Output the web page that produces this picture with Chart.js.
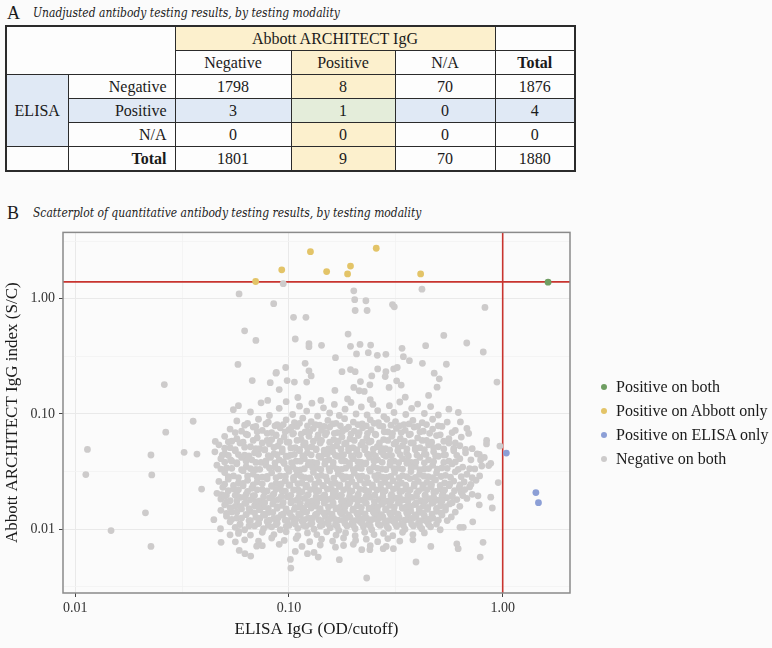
<!DOCTYPE html>
<html><head><meta charset="utf-8">
<script src="https://cdn.jsdelivr.net/npm/chart.js@4.4.1/dist/chart.umd.min.js"></script>
<style>
html,body{margin:0;padding:0;background:#fbfbfb;}
body{width:772px;height:648px;position:relative;overflow:hidden;font-family:"Liberation Serif","Times New Roman",serif;color:#1a1a1a;}
.ptitle{position:absolute;left:7px;white-space:nowrap;line-height:20px;}
.ptitle .lt{font-size:18px;display:inline-block;width:26px;vertical-align:top;}
.ptitle i{font-family:"DejaVu Serif",serif;font-size:12.8px;color:#222;font-style:italic;display:inline-block;transform:scaleX(0.84);transform-origin:0 50%;vertical-align:top;}
#tbl{position:absolute;left:5px;top:25px;border-collapse:collapse;table-layout:fixed;font-size:16px;border:2px solid #2b2b2b;}
#tbl td{border:1.5px solid #2b2b2b;padding:0 6px;text-align:center;height:23px;line-height:18px;white-space:nowrap;overflow:hidden;}
#tbl td.r{text-align:right;padding-right:8px;}
#tbl td.b{font-weight:bold;}
.yl{background:#fcf0cd;}
.bl{background:#e0e9f5;}
.gr{background:#e4edda;}
.wh{background:#fdfdfd;}
#chartwrap{position:absolute;left:0;top:220px;width:772px;height:428px;}
#legend{position:absolute;left:601px;top:377px;font-size:16px;color:#1a1a1a;}
#legend div{height:24px;line-height:20px;white-space:nowrap;}
#legend span.dot{display:inline-block;width:6px;height:6px;border-radius:50%;margin-right:9px;vertical-align:middle;position:relative;top:-1px;}
</style></head>
<body>
<div class="ptitle" style="top:3px"><span class="lt">A</span><i id="titleA"></i></div>
<table id="tbl"></table>
<div class="ptitle" style="top:203px"><span class="lt">B</span><i id="titleB"></i></div>
<div id="chartwrap"><canvas id="c" width="772" height="428"></canvas></div>
<div id="legend"></div>
<script>
// ---------- Panel A: table data ----------
const titleA = 'Unadjusted antibody testing results, by testing modality';
const titleB = 'Scatterplot of quantitative antibody testing results, by testing modality';
const abbottHeader = 'Abbott ARCHITECT IgG';
const elisaHeader = 'ELISA';
const abbottLevels = ['Negative', 'Positive', 'N/A'];
const elisaLevels = ['Negative', 'Positive', 'N/A'];
const countsElisaNegative = [1798, 8, 70];
const countsElisaPositive = [3, 1, 0];
const countsElisaNA = [0, 0, 0];
const rowTotals = [1876, 4, 0];
const colTotals = [1801, 9, 70];
const grandTotal = 1880;
const totalLabel = 'Total';

// ---------- Panel B: scatter data ----------
const xAxisTitle = 'ELISA IgG (OD/cutoff)';
const yAxisTitle = 'Abbott ARCHITECT IgG index (S/C)';
const seriesNames = ['Positive on both', 'Positive on Abbott only', 'Positive on ELISA only', 'Negative on both'];
const seriesColors = ['#6f9e62', '#e3c468', '#8c9fd6', '#cdcbcb'];
const ABBOTT_CUTOFF = 1.4;
const ELISA_CUTOFF = 1.0;
const xTickValues = [0.01, 0.1, 1];
const xTickLabels = ['0.01', '0.10', '1.00'];
const xMinorTicks = [0.0316, 0.316];
const yTickValues = [0.01, 0.1, 1];
const yTickLabels = ['0.01', '0.10', '1.00'];
const yMinorTicks = [0.00316, 0.0316, 0.316, 3.16];
const X_MIN = 0.00876, X_MAX = 2.065, Y_MIN = 0.0028, Y_MAX = 3.76;

const posBoth = [[1.63, 1.39]];
const posAbbottOnly = [[0.0698, 1.41], [0.0925, 1.78], [0.126, 2.56], [0.150, 1.72], [0.188, 1.64], [0.194, 1.92], [0.256, 2.74], [0.413, 1.64]];
const posElisaOnly = [[1.04, 0.0458], [1.43, 0.0208], [1.47, 0.0170]];

const negUpper = [[.0584,1.10],[.094,1.35],[.0848,.906],[.105,.69],[.062,.527],[.070,.435],[.107,.447],[.0577,.269],[.0965,.253],[.0869,.226],[.0673,.195],[.0817,.187],[.098,.195],[.106,.189],[.0261,.180],
[.201,1.17],[.203,.98],[.229,.96],[.204,.79],[.232,.79],[.419,1.21],[.305,.89],[.311,.85],[.826,.84],[.120,.69],[.124,.407],[.124,.384],[.142,.394],[.189,.493],[.194,.386],[.215,.401],[.241,.396],[.207,.332],[.235,.340],[.259,.323],[.284,.329],[.165,.308],[.338,.371],[.343,.314],[.366,.290],[.436,.391],[.530,.480],[.679,.413],[.811,.345],[.421,.275],[.545,.270],[.119,.275],[.0873,.229],[.121,.189],[.127,.214],[.124,.237],[.177,.233],[.194,.243],[.204,.233],[.216,.191],[.244,.214],[.260,.246],[.284,.233],[.309,.246],[.321,.253],[.282,.211],[.319,.194],[.335,.178],[.294,.170],[.478,.226],[.505,.202],[.493,.171],[.940,.189],[.090,.163],[.164,.160],[.201,.170],[.213,.159],[.239,.179],[.225,.157],[.0795,.131]];

const negFringe = [[.0356,.0865],[.0265,.0695],[.0114,.0493],[.0112,.0298],[.0226,.0441],[.0228,.0296],[.0323,.0465],[.0371,.0449],[.039,.0223],[.0213,.0139],[.0147,.00975],[.0226,.0071],[.0452,.0578],[.052,.0574],[.0549,.109],[.0487,.044],[.0533,.0399],[.0484,.020],[.0445,.0121],[.0478,.0101],[.0481,.0077],[.053,.00895],[.0585,.00655],[.0622,.00614],[.0662,.00585],[.102,.00461],[.107,.00642],[.1015,.00548],[.0561,.00778],[.0706,.00713],[.0582,.0096],
[.231,.00378],[.393,.0052],[.785,.00574],[.809,.0077],[.172,.00545],[.724,.0116],[.894,.0153],[.879,.019],[.953,.0254],[.970,.0527],[.841,.059],[.777,.0447],[.879,.0373],[.766,.0195],[.777,.0163],[.693,.0678],[.634,.0853],[.610,.00748],[.631,.0104],[.654,.0104],[.788,.0399],[.798,.0354],[.122,.00614],[.131,.0063],[.137,.00574],[.619,.00678],[.461,.0071],[.219,.00665],[.239,.00665],[.276,.00678],[.308,.00678],[.180,.00723]];

const negCoreTop = [[.058,.118],[.066,.104],[.074,.125],[.081,.097],[.09,.112],[.097,.128],[.104,.099],[.112,.117],[.121,.106],[.128,.124],[.136,.096],[.145,.113],[.155,.102],[.163,.121],[.172,.097],[.183,.11],[.195,.126],[.206,.1],[.218,.115],[.232,.098],[.247,.121],[.26,.107],[.278,.095],[.295,.118],[.31,.103],[.33,.127],[.352,.099],[.375,.112],[.4,.122],[.43,.101],[.46,.116],[.5,.098],[.56,.11],[.62,.103],[.141,.131],[.188,.135],[.24,.133],[.35,.14],[.11,.139],[.45,.145],
[.057,.087],[.064,.083],[.072,.09],[.08,.085],[.088,.081],[.097,.089],[.106,.084],[.116,.092],[.127,.086],[.139,.08],[.152,.088],[.166,.083],[.182,.091],[.2,.085],[.22,.082],[.24,.089],[.262,.084],[.287,.09],[.315,.086],[.345,.081],[.38,.088],[.42,.084],[.47,.09],[.55,.085],
[.053,.074],[.06,.071],[.068,.077],[.075,.072],[.083,.069],[.091,.076],[.1,.073],[.109,.078],[.119,.07],[.13,.075],[.142,.072],[.155,.077],[.169,.069],[.185,.074],[.202,.071],[.221,.076],[.242,.073],[.265,.079],[.29,.07],[.318,.075],[.35,.072],[.385,.077],[.425,.071],[.47,.074],[.52,.078],[.6,.072],[.68,.075],
[.05,.064],[.057,.061],[.064,.066],[.071,.062],[.079,.059],[.087,.065],[.095,.063],[.104,.067],[.114,.06],[.124,.064],[.136,.062],[.148,.066],[.162,.06],[.177,.063],[.193,.061],[.211,.065],[.231,.062],[.253,.067],[.277,.06],[.303,.064],[.332,.061],[.365,.066],[.4,.062],[.44,.059],[.49,.065],[.56,.061],[.64,.063]];

const negCoreMid = [[.047,.054],[.053,.051],[.059,.056],[.066,.052],[.073,.05],[.081,.055],[.089,.053],[.098,.057],[.107,.051],[.117,.054],[.128,.052],[.14,.056],[.153,.05],[.167,.053],[.182,.055],[.199,.051],[.217,.054],[.237,.057],[.259,.052],[.283,.05],[.31,.055],[.34,.053],[.372,.056],[.41,.051],[.45,.054],[.5,.052],[.56,.056],[.63,.053],[.72,.05],[.84,.055],
[.045,.047],[.05,.045],[.056,.048],[.062,.044],[.069,.046],[.077,.049],[.085,.045],[.093,.047],[.102,.044],[.112,.048],[.122,.046],[.134,.049],[.146,.045],[.16,.047],[.175,.044],[.19,.048],[.207,.046],[.226,.049],[.247,.045],[.27,.047],[.295,.044],[.323,.048],[.355,.046],[.39,.049],[.43,.045],[.475,.047],[.53,.044],[.59,.048],[.67,.046],[.76,.045],
[.048,.041],[.054,.039],[.06,.042],[.067,.04],[.074,.038],[.082,.042],[.09,.04],[.099,.043],[.108,.039],[.118,.041],[.129,.038],[.141,.042],[.154,.04],[.168,.043],[.183,.039],[.2,.041],[.218,.038],[.238,.042],[.26,.04],[.284,.043],[.31,.039],[.34,.041],[.373,.038],[.41,.042],[.45,.04],[.5,.043],[.56,.039],[.63,.041],[.71,.04],[.82,.042],
[.046,.036],[.051,.034],[.057,.037],[.063,.035],[.07,.033],[.078,.036],[.086,.0345],[.095,.0372],[.104,.035],[.113,.0328],[.123,.0362],[.135,.034],[.147,.0368],[.161,.0352],[.176,.0331],[.192,.0358],[.209,.0342],[.228,.037],[.249,.0348],[.272,.0333],[.297,.0361],[.325,.0339],[.356,.0373],[.39,.0351],[.428,.0332],[.47,.0359],[.52,.0341],[.58,.0369],[.65,.0346],[.74,.0334],[.86,.0357],
[.05,.031],[.055,.029],[.061,.0322],[.068,.0301],[.075,.0283],[.083,.0309],[.091,.0291],[.1,.0318],[.109,.0298],[.119,.0281],[.13,.0312],[.142,.0293],[.155,.0321],[.17,.0302],[.185,.0284],[.202,.0307],[.22,.0289],[.24,.0319],[.262,.0296],[.286,.0282],[.312,.0311],[.34,.0292],[.372,.0317],[.408,.0299],[.448,.0286],[.49,.0308],[.54,.0294],[.6,.0315],[.68,.03],[.78,.029]];

const negCoreLow = [[.047,.026],[.052,.0272],[.058,.0253],[.064,.0266],[.071,.0258],[.079,.0274],[.087,.025],[.096,.0263],[.105,.0269],[.115,.0252],[.126,.0271],[.138,.0257],[.151,.0265],[.165,.0251],[.18,.0273],[.197,.0259],[.215,.0267],[.235,.0254],[.257,.027],[.281,.0256],[.307,.0264],[.336,.0252],[.368,.0275],[.403,.026],[.442,.0255],[.485,.0268],[.535,.0253],[.59,.0262],[.66,.0257],[.75,.0266],
[.049,.0231],[.055,.0224],[.061,.0238],[.067,.0227],[.075,.0221],[.083,.0236],[.091,.0229],[.1,.0241],[.11,.0222],[.12,.0233],[.132,.0226],[.144,.024],[.158,.0223],[.172,.0235],[.188,.0228],[.206,.0239],[.225,.0221],[.246,.0232],[.269,.0225],[.294,.0242],[.321,.0229],[.351,.0222],[.385,.0237],[.422,.0227],[.463,.0234],[.51,.0223],[.562,.0239],[.625,.0228],[.7,.0233],
[.046,.0205],[.051,.0198],[.057,.0212],[.063,.0201],[.069,.0196],[.077,.0209],[.085,.0203],[.093,.0214],[.102,.0197],[.112,.0207],[.123,.02],[.134,.0213],[.147,.0199],[.161,.0206],[.176,.0197],[.193,.0211],[.211,.0202],[.23,.0215],[.252,.0198],[.276,.0208],[.302,.0201],[.33,.0212],[.362,.0196],[.396,.0205],[.434,.0199],[.476,.021],[.525,.0203],[.58,.0197],[.64,.0208],[.72,.0201],
[.048,.0183],[.053,.0177],[.059,.0189],[.066,.018],[.073,.0176],[.081,.0187],[.089,.0181],[.098,.0191],[.108,.0178],[.118,.0185],[.129,.0176],[.141,.0188],[.154,.0182],[.168,.0192],[.184,.0177],[.201,.0184],[.22,.0179],[.24,.019],[.263,.0181],[.288,.0175],[.315,.0186],[.344,.018],[.377,.0189],[.413,.0177],[.453,.0184],[.497,.0179],[.548,.0188],[.61,.0181],[.68,.0185],
[.05,.0163],[.056,.0158],[.062,.0168],[.069,.016],[.076,.0157],[.084,.0166],[.093,.0161],[.102,.017],[.112,.0156],[.122,.0164],[.134,.0159],[.146,.0169],[.16,.0162],[.175,.0157],[.191,.0167],[.209,.016],[.228,.0171],[.249,.0158],[.272,.0165],[.297,.0161],[.325,.0169],[.355,.0156],[.388,.0164],[.425,.0159],[.466,.0168],[.512,.016],[.565,.0166],[.63,.0158],
[.048,.0146],[.054,.0141],[.06,.015],[.066,.0143],[.073,.0148],[.08,.014],[.088,.0152],[.097,.0144],[.106,.0149],[.116,.0141],[.127,.0153],[.139,.0145],[.152,.014],[.166,.015],[.182,.0143],[.199,.0147],[.217,.0141],[.237,.0151],[.259,.0144],[.283,.0148],[.31,.0142],[.339,.0153],[.371,.0145],[.406,.014],[.445,.0149],[.49,.0143],[.54,.0147],[.6,.0141],
[.051,.013],[.057,.0125],[.063,.0134],[.07,.0127],[.077,.0132],[.085,.0124],[.094,.0135],[.103,.0128],[.113,.0133],[.123,.0125],[.135,.0136],[.148,.0129],[.162,.0124],[.177,.0134],[.193,.0127],[.211,.0131],[.231,.0125],[.252,.0135],[.275,.0128],[.3,.0132],[.328,.0126],[.359,.0134],[.393,.0127],[.43,.0131],[.472,.0125],[.52,.0133],[.575,.0128],
[.053,.0116],[.059,.0111],[.065,.0119],[.072,.0113],[.079,.0117],[.087,.011],[.096,.012],[.105,.0114],[.115,.0118],[.126,.0111],[.138,.0121],[.151,.0115],[.165,.011],[.18,.0119],[.197,.0113],[.215,.0117],[.235,.0111],[.257,.0122],[.281,.0114],[.307,.0118],[.336,.0112],[.368,.012],[.403,.0113],[.442,.0117],[.49,.0111],[.55,.0119],
[.056,.0104],[.062,.0099],[.069,.0107],[.076,.0101],[.083,.0105],[.091,.0099],[.1,.0108],[.11,.0102],[.12,.0106],[.131,.01],[.143,.0109],[.156,.0103],[.171,.0098],[.187,.0107],[.204,.0101],[.223,.0105],[.244,.0099],[.267,.0108],[.292,.0102],[.319,.0106],[.349,.01],[.382,.0107],[.418,.0101],[.46,.0105],[.51,.0099],
[.058,.0092],[.066,.0089],[.075,.0094],[.085,.009],[.097,.0095],[.11,.0088],[.122,.0093],[.135,.009],[.15,.0095],[.166,.0089],[.184,.0093],[.204,.0088],[.226,.0094],[.25,.009],[.277,.0092],[.306,.0088],[.34,.0094],[.38,.009],[.43,.0093],
[.062,.0081],[.072,.0079],[.083,.0084],[.095,.008],[.108,.0083],[.125,.0078],[.142,.0082],[.16,.0079],[.18,.0084],[.205,.008],[.23,.0082],[.26,.0078],[.29,.0083],[.33,.0079],[.38,.0081],
[.075,.0072],[.09,.0074],[.115,.0071],[.14,.0073],[.165,.007],[.2,.0074],[.24,.0072],[.285,.0071]];

const negCoreFillUpper = [[.062,.08],[.07,.078],[.078,.082],[.086,.079],[.094,.081],[.103,.077],[.112,.083],[.122,.079],[.133,.081],[.146,.078],[.16,.082],[.174,.079],[.19,.077],[.21,.081],[.23,.079],[.25,.083],[.275,.078],[.3,.08],[.33,.079],[.365,.082],[.4,.078],[.44,.081],[.5,.079],
[.056,.069],[.063,.067],[.071,.07],[.079,.068],[.087,.066],[.096,.07],[.105,.068],[.114,.067],[.125,.07],[.137,.066],[.15,.069],[.163,.068],[.178,.071],[.195,.067],[.213,.069],[.233,.068],[.255,.066],[.279,.07],[.305,.068],[.335,.069],[.37,.067],[.41,.07],[.455,.068],[.51,.066],[.58,.069],
[.054,.058],[.061,.057],[.068,.059],[.075,.056],[.083,.06],[.091,.058],[.1,.057],[.109,.059],[.119,.056],[.13,.058],[.142,.059],[.155,.057],[.17,.058],[.185,.056],[.202,.059],[.221,.057],[.242,.058],[.265,.056],[.29,.059],[.317,.057],[.347,.058],[.382,.056],[.42,.059],[.465,.057],[.53,.058],[.6,.056],
[.05,.0505],[.056,.049],[.062,.0515],[.07,.05],[.077,.0488],[.085,.0512],[.093,.0497],[.102,.0508],[.112,.0492],[.122,.051],[.134,.0499],[.146,.0486],[.16,.0512],[.175,.0495],[.19,.0507],[.208,.049],[.227,.0511],[.248,.0496],[.271,.0504],[.296,.0489],[.325,.0509],[.356,.0498],[.39,.0506],[.43,.0491],[.475,.051],[.53,.0497],[.59,.0503],[.67,.0494],
[.052,.0438],[.058,.0445],[.065,.0432],[.072,.0447],[.08,.0436],[.088,.0443],[.097,.043],[.106,.0446],[.116,.0435],[.127,.0442],[.138,.0431],[.151,.0447],[.165,.0437],[.18,.0444],[.196,.0433],[.213,.0441],[.233,.0448],[.254,.0434],[.277,.0443],[.302,.0436],[.331,.0445],[.362,.0432],[.397,.044],[.438,.0446],[.485,.0435],[.54,.0442],[.61,.0438],
[.05,.0383],[.057,.0378],[.063,.0389],[.07,.038],[.078,.0391],[.086,.0377],[.094,.0386],[.103,.0379],[.113,.039],[.124,.0381],[.135,.0376],[.148,.0388],[.161,.038],[.176,.0392],[.192,.0378],[.21,.0385],[.229,.0377],[.25,.0389],[.273,.0381],[.298,.0386],[.326,.0379],[.357,.039],[.392,.0382],[.43,.0377],[.475,.0387],[.53,.038],[.6,.0384],
[.048,.0333],[.054,.0338],[.06,.0329],[.066,.0336],[.073,.0331],[.081,.034],[.089,.0332],[.098,.0337],[.108,.0328],[.118,.0335],[.129,.0341],[.141,.033],[.154,.0336],[.168,.0332],[.184,.0339],[.2,.0329],[.218,.0337],[.238,.0331],[.26,.0338],[.284,.033],[.31,.0336],[.34,.0333],[.373,.034],[.41,.0329],[.45,.0336],[.495,.0332],[.55,.0338],[.62,.0331],[.7,.0335],
[.052,.0286],[.058,.0281],[.064,.029],[.071,.0283],[.079,.0288],[.087,.028],[.096,.0289],[.105,.0282],[.114,.0287],[.125,.0279],[.136,.0288],[.149,.0284],[.162,.0278],[.177,.0289],[.194,.0282],[.211,.0287],[.231,.0281],[.252,.029],[.274,.0283],[.299,.0288],[.327,.028],[.356,.0286],[.39,.0282],[.428,.0289],[.47,.0281],[.515,.0287],[.57,.0283],[.64,.0286],[.72,.028]];

const negCoreFillLower = [[.05,.0246],[.055,.024],[.061,.025],[.068,.0243],[.075,.0248],[.083,.0239],[.092,.0247],[.101,.0242],[.11,.0249],[.121,.0241],[.132,.0246],[.145,.0238],[.158,.0248],[.173,.0243],[.189,.0247],[.206,.024],[.226,.0249],[.246,.0242],[.269,.0247],[.294,.0239],[.322,.0245],[.352,.0241],[.386,.0248],[.423,.0243],[.464,.0246],[.51,.024],[.565,.0247],[.63,.0242],[.71,.0245],
[.052,.0216],[.058,.0221],[.064,.0213],[.071,.022],[.079,.0215],[.087,.0222],[.096,.0214],[.105,.0219],[.115,.0212],[.126,.0221],[.138,.0216],[.151,.0223],[.165,.0214],[.18,.022],[.197,.0215],[.215,.0222],[.236,.0213],[.258,.0219],[.282,.0216],[.308,.0223],[.337,.0214],[.369,.022],[.404,.0215],[.443,.0221],[.487,.0213],[.535,.0219],[.595,.0216],[.665,.0221],
[.05,.0193],[.056,.0197],[.062,.019],[.068,.0196],[.076,.0191],[.084,.0198],[.092,.0192],[.101,.0195],[.111,.0189],[.122,.0197],[.134,.0192],[.146,.0196],[.16,.019],[.175,.0198],[.192,.0193],[.21,.0196],[.229,.0191],[.251,.0197],[.275,.0192],[.3,.0195],[.329,.019],[.36,.0197],[.395,.0193],[.433,.0196],[.475,.0191],[.52,.0195],[.58,.0192],[.65,.0196],
[.051,.0172],[.057,.0176],[.063,.0169],[.07,.0174],[.077,.017],[.085,.0177],[.094,.0171],[.103,.0175],[.113,.0168],[.124,.0174],[.135,.0171],[.148,.0177],[.161,.0169],[.176,.0175],[.193,.0172],[.21,.0176],[.23,.0168],[.251,.0174],[.275,.017],[.301,.0177],[.329,.0171],[.36,.0175],[.394,.0169],[.432,.0174],[.474,.0171],[.52,.0176],[.58,.017],
[.053,.0154],[.059,.0158],[.065,.0151],[.072,.0156],[.08,.0152],[.088,.0157],[.097,.015],[.107,.0155],[.117,.0152],[.128,.0158],[.14,.0151],[.153,.0156],[.167,.0153],[.183,.0157],[.2,.015],[.218,.0155],[.238,.0152],[.26,.0157],[.284,.0151],[.311,.0156],[.34,.0153],[.372,.0158],[.407,.0151],[.446,.0155],[.49,.0152],[.54,.0157],
[.051,.0137],[.057,.0141],[.063,.0134],[.069,.0139],[.076,.0135],[.084,.014],[.092,.0133],[.101,.0138],[.111,.0136],[.121,.0141],[.133,.0134],[.145,.0139],[.159,.0135],[.174,.014],[.19,.0133],[.208,.0138],[.227,.0136],[.248,.0141],[.271,.0134],[.296,.0139],[.324,.0135],[.355,.014],[.388,.0133],[.425,.0138],[.467,.0135],[.515,.0139],
[.054,.0122],[.06,.0125],[.066,.0119],[.073,.0124],[.081,.012],[.089,.0126],[.098,.0119],[.108,.0123],[.118,.0121],[.129,.0125],[.141,.0118],[.155,.0123],[.17,.012],[.185,.0125],[.203,.0119],[.222,.0123],[.243,.0121],[.266,.0126],[.291,.0119],[.318,.0124],[.348,.012],[.38,.0125],[.416,.0119],[.455,.0123],[.5,.012],
[.059,.011],[.065,.0107],[.072,.0112],[.08,.0108],[.088,.0113],[.097,.0106],[.107,.0111],[.117,.0108],[.128,.0113],[.14,.0107],[.153,.0111],[.168,.0106],[.183,.0112],[.2,.0108],[.219,.0113],[.24,.0107],[.262,.0111],[.287,.0106],[.314,.0112],[.343,.0108],[.375,.0111],[.41,.0106],[.45,.011]];

const negBoth = negUpper.concat(negFringe, negCoreTop, negCoreMid, negCoreLow, negCoreFillUpper, negCoreFillLower);

// ---------- build table ----------
document.getElementById('titleA').textContent = titleA;
document.getElementById('titleB').textContent = titleB;
const colW = [62, 107, 116, 104, 100, 80];
const tbl = document.getElementById('tbl');
const cg = document.createElement('colgroup');
colW.forEach(w => { const c = document.createElement('col'); c.style.width = w + 'px'; cg.appendChild(c); });
tbl.appendChild(cg);
function td(tr, text, cls, attrs) {
  const d = document.createElement('td');
  d.textContent = text;
  if (cls) d.className = cls;
  if (attrs) for (const k in attrs) d.setAttribute(k, attrs[k]);
  tr.appendChild(d);
  return d;
}
const bodyRows = [countsElisaNegative, countsElisaPositive, countsElisaNA];
let tr = document.createElement('tr'); tbl.appendChild(tr);
td(tr, '', 'wh', {colspan: 2, rowspan: 2});
td(tr, abbottHeader, 'yl', {colspan: 3});
td(tr, '', 'wh');
tr = document.createElement('tr'); tbl.appendChild(tr);
abbottLevels.forEach((l, i) => td(tr, l, i === 1 ? 'yl' : 'wh'));
td(tr, totalLabel, 'wh b');
bodyRows.forEach((row, r) => {
  tr = document.createElement('tr'); tbl.appendChild(tr);
  if (r === 0) td(tr, elisaHeader, 'bl', {rowspan: 3});
  const rowCls = r === 1 ? 'bl' : 'wh';
  td(tr, elisaLevels[r], rowCls + ' r');
  row.forEach((v, i) => td(tr, String(v), i === 1 ? (r === 1 ? 'gr' : 'yl') : rowCls));
  td(tr, String(rowTotals[r]), rowCls);
});
tr = document.createElement('tr'); tbl.appendChild(tr);
td(tr, '', 'wh');
td(tr, totalLabel, 'wh r b');
colTotals.forEach((v, i) => td(tr, String(v), i === 1 ? 'yl' : 'wh'));
td(tr, String(grandTotal), 'wh');

// ---------- legend ----------
const lg = document.getElementById('legend');
seriesNames.forEach((n, i) => {
  const d = document.createElement('div');
  const s = document.createElement('span'); s.className = 'dot'; s.style.background = seriesColors[i];
  d.appendChild(s); d.appendChild(document.createTextNode(n));
  lg.appendChild(d);
});

// ---------- chart ----------
const toXY = arr => arr.map(p => ({x: p[0], y: p[1]}));
const seriesData = [posBoth, posAbbottOnly, posElisaOnly, negBoth];

const cutoffPlugin = {
  id: 'cutoffs',
  beforeDatasetsDraw(chart) {
    const {ctx, chartArea: a, scales: {x, y}} = chart;
    ctx.save();
    ctx.strokeStyle = '#c8342f';
    ctx.lineWidth = 1.6;
    ctx.beginPath();
    const py = y.getPixelForValue(ABBOTT_CUTOFF);
    ctx.moveTo(a.left, py); ctx.lineTo(a.right, py);
    const px = x.getPixelForValue(ELISA_CUTOFF);
    ctx.moveTo(px, a.top); ctx.lineTo(px, a.bottom);
    ctx.stroke();
    ctx.restore();
  },
  afterDatasetsDraw(chart) {
    const {ctx, chartArea: a} = chart;
    ctx.save();
    ctx.strokeStyle = '#8a8a8a';
    ctx.lineWidth = 1.5;
    ctx.strokeRect(a.left, a.top, a.right - a.left, a.bottom - a.top);
    ctx.restore();
  }
};

function makeTicks(majors, minors) {
  return majors.map(v => ({value: v, isMajor: true})).concat(minors.map(v => ({value: v, isMajor: false}))).sort((p, q) => p.value - q.value);
}
const gridOpts = {
  color: c => (c.tick && c.tick.isMajor) ? '#e9e9e9' : '#f2f2f2',
  lineWidth: c => (c.tick && c.tick.isMajor) ? 1 : 0.8,
  tickColor: c => (c.tick && c.tick.isMajor) ? '#444' : 'rgba(0,0,0,0)',
  tickLength: 4,
  drawTicks: true
};
const tickFont = {family: '"Liberation Serif", serif', size: 14};
const titleFont = {family: '"Liberation Serif", serif', size: 17};

new Chart(document.getElementById('c'), {
  type: 'scatter',
  data: {
    datasets: seriesNames.map((n, i) => ({
      label: n,
      data: toXY(seriesData[i]),
      backgroundColor: seriesColors[i],
      borderWidth: 0,
      pointRadius: 3.4,
      pointHoverRadius: 3.4
    }))
  },
  options: {
    responsive: false,
    animation: false,
    devicePixelRatio: 1,
    events: [],
    layout: {padding: {top: 10, right: 202, bottom: 8, left: 0}},
    plugins: {legend: {display: false}, tooltip: {enabled: false}},
    scales: {
      x: {
        type: 'logarithmic', position: 'bottom', min: X_MIN, max: X_MAX,
        afterBuildTicks: s => { s.ticks = makeTicks(xTickValues, xMinorTicks); },
        afterFit: s => { s.height = 47; },
        ticks: {
          autoSkip: false, maxRotation: 0, padding: 3, color: '#333', font: tickFont,
          callback: v => { const k = xTickValues.indexOf(v); return k >= 0 ? xTickLabels[k] : ''; }
        },
        grid: gridOpts,
        border: {display: false},
        title: {display: true, text: xAxisTitle, color: '#1a1a1a', font: titleFont, padding: {top: 4, bottom: 0}}
      },
      y: {
        type: 'logarithmic', position: 'left', min: Y_MIN, max: Y_MAX,
        afterBuildTicks: s => { s.ticks = makeTicks(yTickValues, yMinorTicks); },
        afterFit: s => { s.width = 63; },
        ticks: {
          autoSkip: false, padding: 4, color: '#333', font: tickFont,
          callback: v => { const k = yTickValues.indexOf(v); return k >= 0 ? yTickLabels[k] : ''; }
        },
        grid: gridOpts,
        border: {display: false},
        title: {display: true, text: yAxisTitle, color: '#1a1a1a', font: titleFont, padding: {top: 2, bottom: 0}}
      }
    }
  },
  plugins: [cutoffPlugin]
});
</script>
</body></html>
